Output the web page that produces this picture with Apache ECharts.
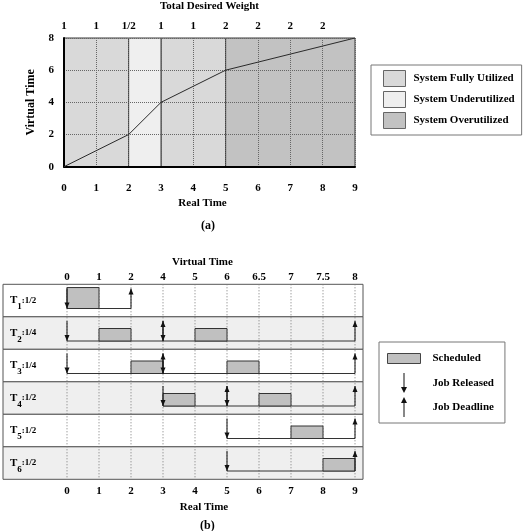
<!DOCTYPE html>
<html>
<head>
<meta charset="utf-8">
<script src="https://cdn.jsdelivr.net/npm/echarts@6/dist/echarts.min.js"></script>
<style>
  html, body { margin: 0; padding: 0; background: #fff; }
  #chart { width: 525px; height: 531px; }
</style>
</head>
<body>
<div id="chart"></div>
<script>
// ---- (a) virtual time against real time
const realTicks = [0, 1, 2, 3, 4, 5, 6, 7, 8, 9]
const weightLabels = ['1', '1', '1/2', '1', '1', '2', '2', '2', '2']
const curveReal = [0, 2, 3, 5, 9]
const curveVirtual = [0, 2, 4, 6, 8]
const fullBands = [[0, 2], [3, 5]]
const underBands = [[2, 3]]
const overBands = [[5, 9]]

// ---- (b) the schedule
const virtualLabels = ['0', '1', '2', '4', '5', '6', '6.5', '7', '7.5', '8']
const taskIds = ['1', '2', '3', '4', '5', '6']
const taskWeights = ['1/2', '1/4', '1/4', '1/2', '1/2', '1/2']
const releases = [[0], [0, 3], [0, 3], [3, 5], [5], [5]]
const deadlines = [[2], [3, 9], [3, 9], [5, 9], [9], [9]]
// [task, start, end]
const scheduled = [
  [0, 0, 1], [1, 1, 2], [1, 4, 5], [2, 2, 3], [2, 5, 6],
  [3, 3, 4], [3, 6, 7], [4, 7, 8], [5, 8, 9]
]

const FONT = 'Liberation Serif'
const txt = { fontFamily: FONT, fontWeight: 'bold', fontSize: 11, color: '#000' }

// row layout inside a task lane (fractions of the lane height)
const barTopFrac = [0.1, 0.36, 0.36, 0.36, 0.36, 0.36]
const baseFrac = 0.745
const arrowTopFrac = 0.13

let chart = echarts.init(document.getElementById('chart'))

function bandItem (params, api) {
  let x0 = api.coord([api.value(0), 0])[0]
  let x1 = api.coord([api.value(1), 0])[0]
  let cs = params.coordSys
  return {
    type: 'rect',
    shape: { x: x0, y: cs.y, width: x1 - x0, height: cs.height },
    style: { fill: api.visual('color'), stroke: '#3a3a3a', lineWidth: 1 }
  }
}

function laneTop (api, row) {
  let c = api.coord([0, row])
  let bh = api.size([0, 1], [0, row])[1]
  return { top: c[1] - bh / 2, bh: bh }
}

function rowItem (params, api) {
  let row = api.value(1)
  let l = laneTop(api, row)
  let cs = params.coordSys
  return {
    type: 'rect',
    shape: { x: cs.x, y: l.top, width: cs.width, height: l.bh },
    style: { fill: row % 2 ? '#efefef' : '#ffffff', stroke: '#555', lineWidth: 1 }
  }
}

// dotted guide at each real time tick, across all lanes
function guideItem (params, api) {
  let x = api.coord([api.value(0), 0])[0]
  let cs = params.coordSys
  return {
    type: 'line',
    shape: { x1: x, y1: cs.y, x2: x, y2: cs.y + cs.height },
    style: { stroke: '#777', lineWidth: 1, lineDash: [1, 2] }
  }
}

function barItem (params, api) {
  let row = api.value(0)
  let l = laneTop(api, row)
  let x0 = api.coord([api.value(1), row])[0]
  let x1 = api.coord([api.value(2), row])[0]
  let y0 = l.top + l.bh * barTopFrac[row]
  let y1 = l.top + l.bh * baseFrac
  return {
    type: 'rect',
    shape: { x: x0, y: y0, width: x1 - x0, height: y1 - y0 },
    style: { fill: api.visual('color'), stroke: '#333', lineWidth: 1 }
  }
}

function baseItem (params, api) {
  let row = api.value(2)
  let l = laneTop(api, row)
  let x0 = api.coord([api.value(0), row])[0]
  let x1 = api.coord([api.value(1), row])[0]
  let y = l.top + l.bh * baseFrac
  return {
    type: 'line',
    shape: { x1: x0, y1: y, x2: x1, y2: y },
    style: { stroke: '#333', lineWidth: 1 }
  }
}

function arrowItem (down) {
  return function (params, api) {
    let row = api.value(1)
    let l = laneTop(api, row)
    let x = api.coord([api.value(0), row])[0]
    let top = l.top + l.bh * arrowTopFrac
    let base = l.top + l.bh * baseFrac
    let tip = down ? base : top
    let d = down ? -6 : 6
    return {
      type: 'group',
      children: [
        { type: 'line', shape: { x1: x, y1: top, x2: x, y2: base }, style: { stroke: '#111', lineWidth: 1 } },
        { type: 'polygon', shape: { points: [[x, tip], [x - 2.5, tip + d], [x + 2.5, tip + d]] }, style: { fill: '#111' } }
      ]
    }
  }
}

// legend icons (extra moveTo points pad the box so the text sits further right)
const swatchIcon = 'path://M0,0M25,16M0,0H22V16H0Z'
const schedIcon = 'path://M0,0M40,20M0,5H33V15H0Z'
const releaseIcon = 'path://M0,0M40,20M16,0H17V14H19.5L16.5,20L13.5,14H16Z'
const deadlineIcon = 'path://M0,0M40,20M16.5,0L19.5,6H17V20H16V6H13.5Z'

const releaseData = []
const deadlineData = []
releases.forEach((list, i) => list.forEach(t => releaseData.push([t, i])))
deadlines.forEach((list, i) => list.forEach(t => deadlineData.push([t, i])))
const baselineData = taskIds.map((t, i) => [releases[i][0], deadlines[i][deadlines[i].length - 1], i])

const hiddenAxis = { show: false, onZero: false }

let option = {
  animation: false,
  textStyle: { fontFamily: FONT, fontWeight: 'bold' },
  title: [
    { text: '(a)', left: 201, top: 220, padding: 0, textStyle: Object.assign({}, txt, { fontSize: 12 }) },
    { text: '(b)', left: 200, top: 520, padding: 0, textStyle: Object.assign({}, txt, { fontSize: 12 }) }
  ],
  grid: [
    { left: 64, top: 37.7, width: 291, height: 129 },
    { left: 0, top: 284.3, width: 363, height: 195 }
  ],
  legend: [
    {
      orient: 'vertical', left: 371, top: 65, padding: [5, 7, 6, 12],
      itemWidth: 25, itemHeight: 16, itemGap: 4, selectedMode: false,
      backgroundColor: '#fff', borderColor: '#777', borderWidth: 1,
      textStyle: txt,
      data: [
        { name: 'System Fully Utilized', icon: swatchIcon, itemStyle: { borderColor: '#666', borderWidth: 1 } },
        { name: 'System Underutilized', icon: swatchIcon, itemStyle: { borderColor: '#666', borderWidth: 1 } },
        { name: 'System Overutilized', icon: swatchIcon, itemStyle: { borderColor: '#666', borderWidth: 1 } }
      ]
    },
    {
      orient: 'vertical', left: 379, top: 342, padding: [6, 11, 6, 8],
      itemWidth: 40, itemHeight: 20, itemGap: 4, selectedMode: false,
      backgroundColor: '#fff', borderColor: '#777', borderWidth: 1,
      textStyle: txt,
      data: [
        { name: 'Scheduled', icon: schedIcon, itemStyle: { borderColor: '#444', borderWidth: 1 } },
        { name: 'Job Released', icon: releaseIcon, itemStyle: { borderWidth: 0 } },
        { name: 'Job Deadline', icon: deadlineIcon, itemStyle: { borderWidth: 0 } }
      ]
    }
  ],
  xAxis: [
    {
      gridIndex: 0, type: 'value', position: 'bottom', min: 0, max: 9, interval: 1,
      axisLine: { onZero: false, lineStyle: { color: '#000', width: 2 } },
      axisTick: { show: false },
      splitLine: { show: true, lineStyle: { type: 'dotted', color: '#666' } },
      axisLabel: Object.assign({ margin: 16 }, txt),
      name: 'Real Time', nameLocation: 'middle', nameGap: 31,
      nameTextStyle: Object.assign({ padding: [0, 14, 0, 0] }, txt)
    },
    {
      gridIndex: 0, type: 'value', position: 'top', min: 0, max: 9, interval: 1,
      axisLine: hiddenAxis, axisTick: { show: false }, splitLine: { show: false },
      axisLabel: Object.assign({ margin: 6, formatter: v => weightLabels[v] || '' }, txt),
      name: 'Total Desired Weight', nameLocation: 'middle', nameGap: 26,
      nameTextStyle: txt
    },
    {
      gridIndex: 1, type: 'value', position: 'bottom', min: -2, max: 9.25, interval: 1,
      axisLine: hiddenAxis, axisTick: { show: false }, splitLine: { show: false },
      axisLabel: Object.assign({
        margin: 6,
        formatter: v => (realTicks.indexOf(v) >= 0 ? String(v) : '')
      }, txt),
      name: 'Real Time', nameLocation: 'middle', nameGap: 22,
      nameTextStyle: Object.assign({ padding: [0, 0, 0, 42] }, txt)
    },
    {
      gridIndex: 1, type: 'value', position: 'top', min: -2, max: 9.25, interval: 1,
      axisLine: hiddenAxis, axisTick: { show: false }, splitLine: { show: false },
      axisLabel: Object.assign({
        margin: 2,
        formatter: v => (realTicks.indexOf(v) >= 0 ? virtualLabels[v] : '')
      }, txt),
      name: 'Virtual Time', nameLocation: 'middle', nameGap: 17,
      nameTextStyle: Object.assign({ padding: [0, 0, 0, 39] }, txt)
    }
  ],
  yAxis: [
    {
      gridIndex: 0, type: 'value', min: 0, max: 8, interval: 2,
      axisLine: { show: true, onZero: false, lineStyle: { color: '#000', width: 2 } },
      axisTick: { show: false },
      splitLine: { show: true, lineStyle: { type: 'dotted', color: '#666' } },
      axisLabel: Object.assign({ margin: 10 }, txt),
      name: 'Virtual Time', nameLocation: 'middle', nameGap: 27,
      nameTextStyle: Object.assign({}, txt, { fontSize: 12 })
    },
    {
      gridIndex: 1, type: 'category', data: taskIds, inverse: true, z: 10,
      axisLine: { show: false }, axisTick: { show: false },
      splitLine: { show: false },
      axisLabel: {
        inside: true, margin: 7,
        formatter: (v, i) => '{t|T}{s|' + v + '}{f|:' + taskWeights[i] + '}',
        rich: {
          t: { fontFamily: FONT, fontWeight: 'bold', fontSize: 11, lineHeight: 22, color: '#000' },
          s: { fontFamily: FONT, fontWeight: 'bold', fontSize: 9, lineHeight: 9, verticalAlign: 'bottom', color: '#000' },
          f: { fontFamily: FONT, fontWeight: 'bold', fontSize: 9, lineHeight: 22, color: '#000' }
        }
      }
    }
  ],
  series: [
    // (a)
    {
      name: 'System Fully Utilized', type: 'custom', xAxisIndex: 0, yAxisIndex: 0, z: -1,
      itemStyle: { color: '#d9d9d9' }, renderItem: bandItem, encode: { x: [0, 1], y: 2 },
      data: fullBands.map(b => [b[0], b[1], 0])
    },
    {
      name: 'System Underutilized', type: 'custom', xAxisIndex: 0, yAxisIndex: 0, z: -1,
      itemStyle: { color: '#efefef' }, renderItem: bandItem, encode: { x: [0, 1], y: 2 },
      data: underBands.map(b => [b[0], b[1], 0])
    },
    {
      name: 'System Overutilized', type: 'custom', xAxisIndex: 0, yAxisIndex: 0, z: -1,
      itemStyle: { color: '#c2c2c2' }, renderItem: bandItem, encode: { x: [0, 1], y: 2 },
      data: overBands.map(b => [b[0], b[1], 0])
    },
    {
      type: 'line', xAxisIndex: 0, yAxisIndex: 0, showSymbol: false, silent: true,
      lineStyle: { color: '#2a2a2a', width: 1 },
      data: curveReal.map((r, i) => [r, curveVirtual[i]])
    },
    // (b)
    {
      type: 'custom', xAxisIndex: 2, yAxisIndex: 1, z: 1, silent: true,
      renderItem: rowItem, encode: { x: 0, y: 1 },
      data: taskIds.map((t, i) => [0, i])
    },
    {
      type: 'custom', xAxisIndex: 2, yAxisIndex: 1, z: 2, silent: true,
      renderItem: guideItem, encode: { x: 0, y: 1 },
      data: realTicks.map(v => [v, 0])
    },
    {
      type: 'custom', xAxisIndex: 2, yAxisIndex: 1, z: 3, silent: true,
      renderItem: baseItem, encode: { x: [0, 1], y: 2 }, data: baselineData
    },
    {
      name: 'Scheduled', type: 'custom', xAxisIndex: 2, yAxisIndex: 1, z: 4,
      itemStyle: { color: '#c0c0c0', borderColor: '#444' },
      renderItem: barItem, encode: { x: [1, 2], y: 0 }, data: scheduled
    },
    {
      name: 'Job Released', type: 'custom', xAxisIndex: 2, yAxisIndex: 1, z: 5,
      itemStyle: { color: '#111' }, renderItem: arrowItem(true), encode: { x: 0, y: 1 }, data: releaseData
    },
    {
      name: 'Job Deadline', type: 'custom', xAxisIndex: 2, yAxisIndex: 1, z: 5,
      itemStyle: { color: '#111' }, renderItem: arrowItem(false), encode: { x: 0, y: 1 }, data: deadlineData
    }
  ]
}

chart.setOption(option)
</script>
</body>
</html>
